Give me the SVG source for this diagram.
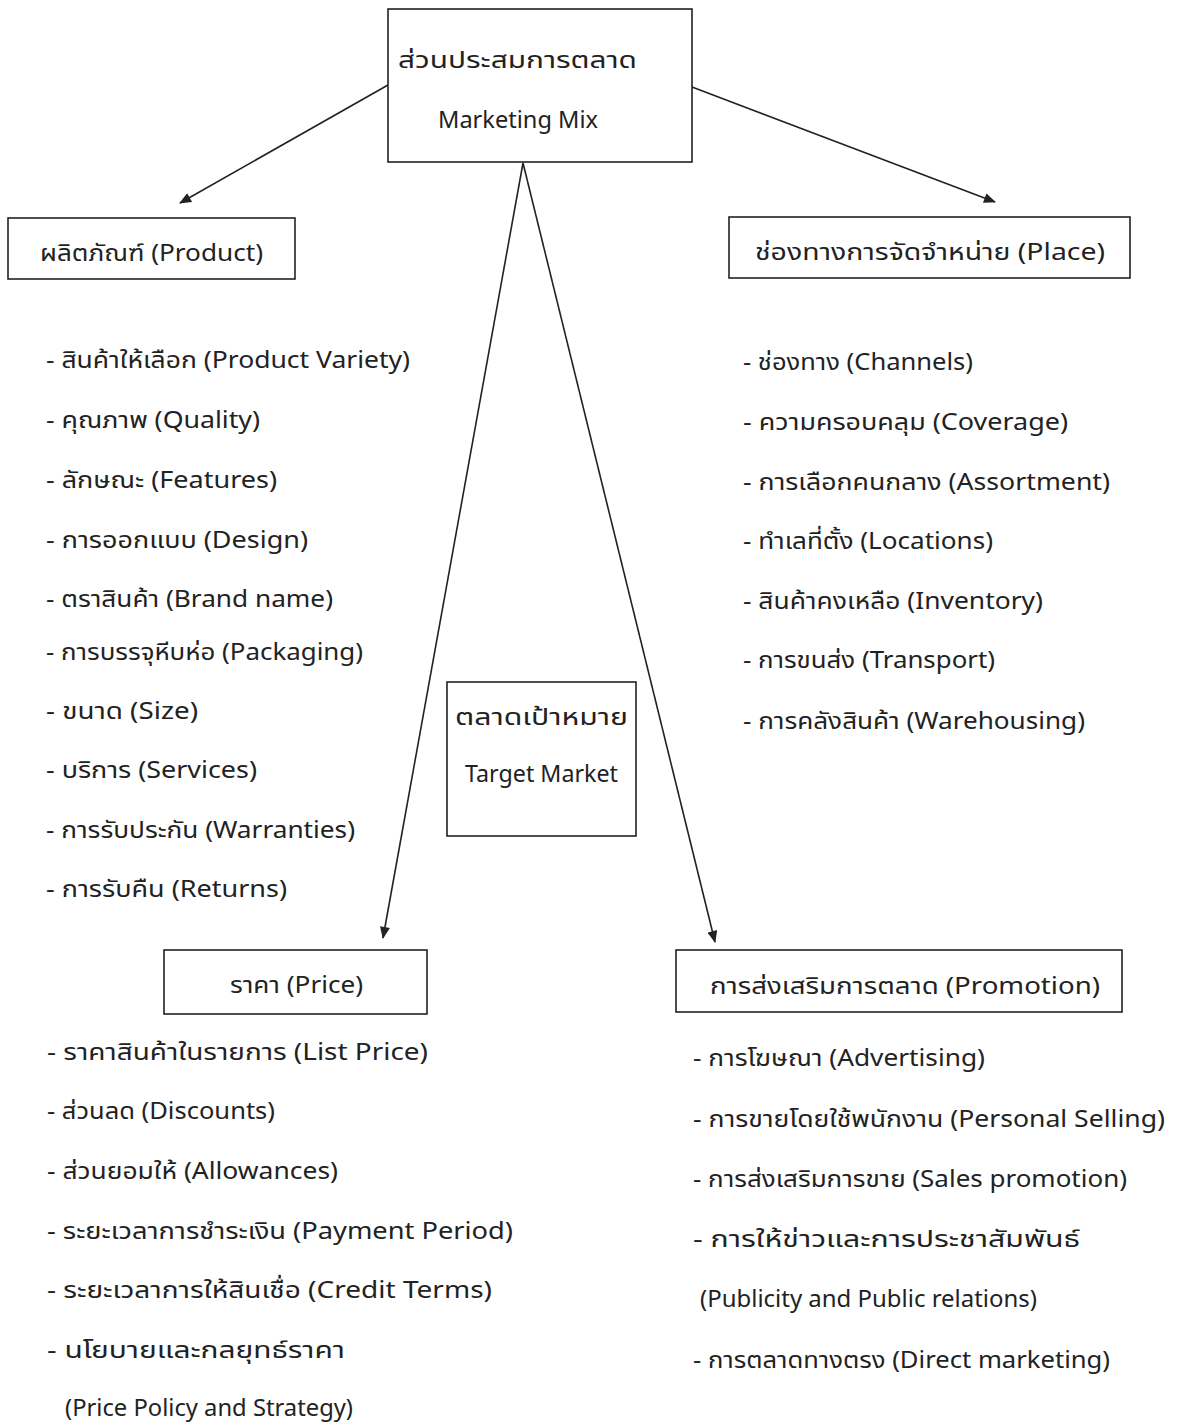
<svg xmlns="http://www.w3.org/2000/svg" width="1179" height="1424" viewBox="0 0 1179 1424">
<defs>
<style>
text{font-family:"Noto Sans Thai","Loma","Garuda","Noto Sans","DejaVu Sans",sans-serif;font-size:23px;fill:#222;}
.box{fill:#fff;stroke:#222;stroke-width:1.6;}
.conn line{stroke:#222;stroke-width:1.6;fill:none;}
</style>
<marker id="ah" viewBox="0 0 12 10" refX="11" refY="5" markerWidth="13" markerHeight="10" markerUnits="userSpaceOnUse" orient="auto">
<path d="M0,0 L12,5 L0,10 Z" fill="#222"/>
</marker>
</defs>
<rect width="1179" height="1424" fill="#fff"/>
<g class="conn" id="connectors">
<line x1="388" y1="85" x2="180" y2="203" marker-end="url(#ah)"/>
<line x1="692" y1="87" x2="995" y2="202" marker-end="url(#ah)"/>
<line x1="523" y1="163" x2="383" y2="938" marker-end="url(#ah)"/>
<line x1="523" y1="163" x2="715" y2="942" marker-end="url(#ah)"/>
</g>
<g id="marketing-mix">
<rect class="box" x="388" y="9" width="304" height="153"/>
<text x="398" y="68" textLength="239" lengthAdjust="spacingAndGlyphs">ส่วนประสมการตลาด</text>
<text x="438" y="128" textLength="160" lengthAdjust="spacingAndGlyphs">Marketing Mix</text>
</g>
<g id="product">
<rect class="box" x="8" y="218" width="287" height="61"/>
<text x="40" y="261" textLength="223" lengthAdjust="spacingAndGlyphs">ผลิตภัณฑ์ (Product)</text>
</g>
<g id="place">
<rect class="box" x="729" y="217" width="401" height="61"/>
<text x="755" y="260" textLength="350" lengthAdjust="spacingAndGlyphs">ช่องทางการจัดจำหน่าย (Place)</text>
</g>
<g id="target-market">
<rect class="box" x="447" y="682" width="189" height="154"/>
<text x="455" y="725" textLength="173" lengthAdjust="spacingAndGlyphs">ตลาดเป้าหมาย</text>
<text x="465" y="782" textLength="153" lengthAdjust="spacingAndGlyphs">Target Market</text>
</g>
<g id="price">
<rect class="box" x="164" y="950" width="263" height="64"/>
<text x="230" y="993" textLength="133" lengthAdjust="spacingAndGlyphs">ราคา (Price)</text>
</g>
<g id="promotion">
<rect class="box" x="676" y="950" width="446" height="62"/>
<text x="710" y="994" textLength="390" lengthAdjust="spacingAndGlyphs">การส่งเสริมการตลาด (Promotion)</text>
</g>
<g id="product-list">
<text x="46" y="368" textLength="364" lengthAdjust="spacingAndGlyphs">- สินค้าให้เลือก (Product Variety)</text>
<text x="46" y="428" textLength="214" lengthAdjust="spacingAndGlyphs">- คุณภาพ (Quality)</text>
<text x="46" y="488" textLength="231" lengthAdjust="spacingAndGlyphs">- ลักษณะ (Features)</text>
<text x="46" y="548" textLength="262" lengthAdjust="spacingAndGlyphs">- การออกแบบ (Design)</text>
<text x="46" y="607" textLength="287" lengthAdjust="spacingAndGlyphs">- ตราสินค้า (Brand name)</text>
<text x="46" y="660" textLength="317" lengthAdjust="spacingAndGlyphs">- การบรรจุหีบห่อ (Packaging)</text>
<text x="46" y="719" textLength="152" lengthAdjust="spacingAndGlyphs">- ขนาด (Size)</text>
<text x="46" y="778" textLength="211" lengthAdjust="spacingAndGlyphs">- บริการ (Services)</text>
<text x="46" y="838" textLength="309" lengthAdjust="spacingAndGlyphs">- การรับประกัน (Warranties)</text>
<text x="46" y="897" textLength="241" lengthAdjust="spacingAndGlyphs">- การรับคืน (Returns)</text>
</g>
<g id="place-list">
<text x="743" y="370" textLength="230" lengthAdjust="spacingAndGlyphs">- ช่องทาง (Channels)</text>
<text x="743" y="430" textLength="325" lengthAdjust="spacingAndGlyphs">- ความครอบคลุม (Coverage)</text>
<text x="743" y="490" textLength="367" lengthAdjust="spacingAndGlyphs">- การเลือกคนกลาง (Assortment)</text>
<text x="743" y="549" textLength="250" lengthAdjust="spacingAndGlyphs">- ทำเลที่ตั้ง (Locations)</text>
<text x="743" y="609" textLength="300" lengthAdjust="spacingAndGlyphs">- สินค้าคงเหลือ (Inventory)</text>
<text x="743" y="668" textLength="252" lengthAdjust="spacingAndGlyphs">- การขนส่ง (Transport)</text>
<text x="743" y="729" textLength="342" lengthAdjust="spacingAndGlyphs">- การคลังสินค้า (Warehousing)</text>
</g>
<g id="price-list">
<text x="47" y="1060" textLength="381" lengthAdjust="spacingAndGlyphs">- ราคาสินค้าในรายการ (List Price)</text>
<text x="47" y="1119" textLength="228" lengthAdjust="spacingAndGlyphs">- ส่วนลด (Discounts)</text>
<text x="47" y="1179" textLength="291" lengthAdjust="spacingAndGlyphs">- ส่วนยอมให้ (Allowances)</text>
<text x="47" y="1239" textLength="466" lengthAdjust="spacingAndGlyphs">- ระยะเวลาการชำระเงิน (Payment Period)</text>
<text x="47" y="1298" textLength="445" lengthAdjust="spacingAndGlyphs">- ระยะเวลาการให้สินเชื่อ (Credit Terms)</text>
<text x="47" y="1358" textLength="298" lengthAdjust="spacingAndGlyphs">- นโยบายและกลยุทธ์ราคา</text>
<text x="65" y="1416" textLength="288" lengthAdjust="spacingAndGlyphs">(Price Policy and Strategy)</text>
</g>
<g id="promotion-list">
<text x="693" y="1066" textLength="292" lengthAdjust="spacingAndGlyphs">- การโฆษณา (Advertising)</text>
<text x="693" y="1127" textLength="472" lengthAdjust="spacingAndGlyphs">- การขายโดยใช้พนักงาน (Personal Selling)</text>
<text x="693" y="1187" textLength="434" lengthAdjust="spacingAndGlyphs">- การส่งเสริมการขาย (Sales promotion)</text>
<text x="693" y="1247" textLength="387" lengthAdjust="spacingAndGlyphs">- การให้ข่าวและการประชาสัมพันธ์</text>
<text x="700" y="1307" textLength="337" lengthAdjust="spacingAndGlyphs">(Publicity and Public relations)</text>
<text x="693" y="1368" textLength="417" lengthAdjust="spacingAndGlyphs">- การตลาดทางตรง (Direct marketing)</text>
</g>
</svg>
